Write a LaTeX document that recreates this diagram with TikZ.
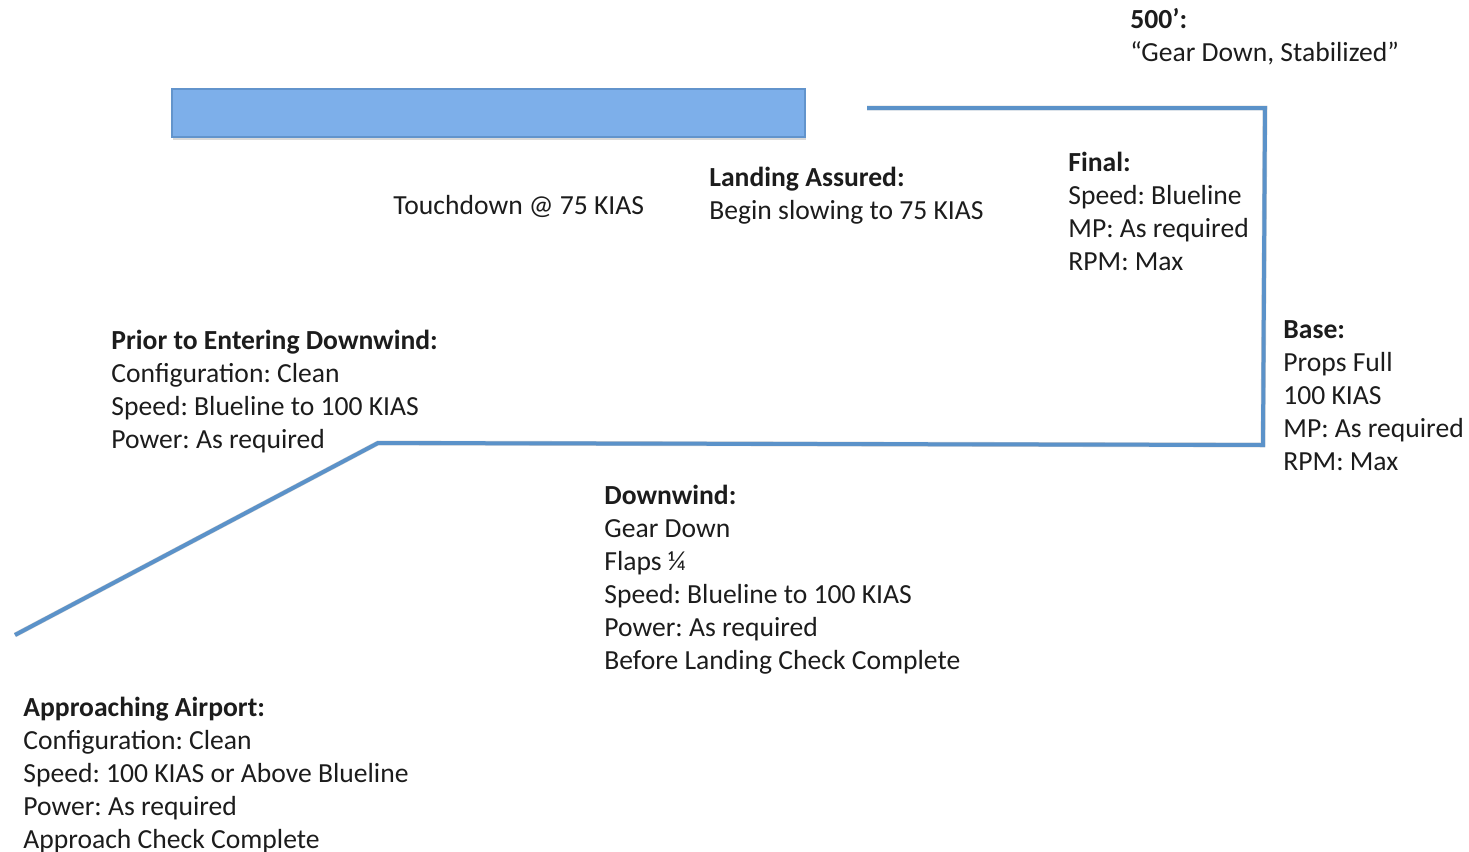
\documentclass[tikz,border=0pt]{standalone}
\usepackage{fontspec}
\setmainfont{Carlito}
\frenchspacing
\usetikzlibrary{shadows}
\definecolor{RunwayFill}{RGB}{125,175,234}
\definecolor{RunwayEdge}{RGB}{98,148,204}
\definecolor{PatternBlue}{RGB}{91,146,201}
\definecolor{NoteInk}{RGB}{28,28,28}

\begin{document}
\begin{tikzpicture}[x=0.5pt,y=-0.5pt]
        \tikzset{note/.style={anchor=north west,inner sep=0pt,align=left,text=NoteInk,font=\fontsize{13.8}{16.5}\selectfont},pattern line/.style={draw=PatternBlue,line width=2pt,line join=miter},pattern shade/.style={draw=black,opacity=0.18,line width=2.4pt,line join=miter}}
        \useasboundingbox (0,0) rectangle (1469,852);
        % runway
        \node[draw=RunwayEdge,fill=RunwayFill,line width=0.8pt,minimum width=316.5pt,minimum height=24pt,inner sep=0pt,drop shadow={shadow xshift=0.6pt,shadow yshift=-1.6pt,opacity=0.3}] (runway) at (488.5,113) {};
        % traffic pattern
        \coordinate (final) at (867,108);
        \coordinate (turnfinal) at (1265,108);
        \coordinate (turnbase) at (1263,445);
        \coordinate (entry) at (378,443);
        \coordinate (inbound) at (15,635);
        \begin{scope}[yshift=-1.4pt,xshift=0.4pt]
          \draw[pattern shade] (final) -- (turnfinal) -- (turnbase) -- (entry) -- (inbound);
        \end{scope}
        \draw[pattern line] (final) -- (turnfinal) -- (turnbase) -- (entry) -- (inbound);
        % callouts
        \node[note] (high) at (1130,8) {\textbf{500’:}\\“Gear Down, Stabilized”};
        \node[note] (touchdown) at (393,195) {Touchdown @ 75 KIAS};
        \node[note] (assured) at (709,167) {\textbf{Landing Assured:}\\Begin slowing to 75 KIAS};
        \node[note] (finalnote) at (1068,152) {\textbf{Final:}\\Speed: Blueline\\MP: As required\\RPM: Max};
        \node[note] (basenote) at (1283,320) {\textbf{Base:}\\Props Full\\100 KIAS\\MP: As required\\RPM: Max};
        \node[note] (prior) at (111,330) {\textbf{Prior to Entering Downwind:}\\Configuration: Clean\\Speed: Blueline to 100 KIAS\\Power: As required};
        \node[note] (downwind) at (604,485) {\textbf{Downwind:}\\Gear Down\\Flaps ¼\\Speed: Blueline to 100 KIAS\\Power: As required\\Before Landing Check Complete};
        \node[note] (approach) at (23,697) {\textbf{Approaching Airport:}\\Configuration: Clean\\Speed: 100 KIAS or Above Blueline\\Power: As required\\Approach Check Complete};
      \end{tikzpicture}
\end{document}
